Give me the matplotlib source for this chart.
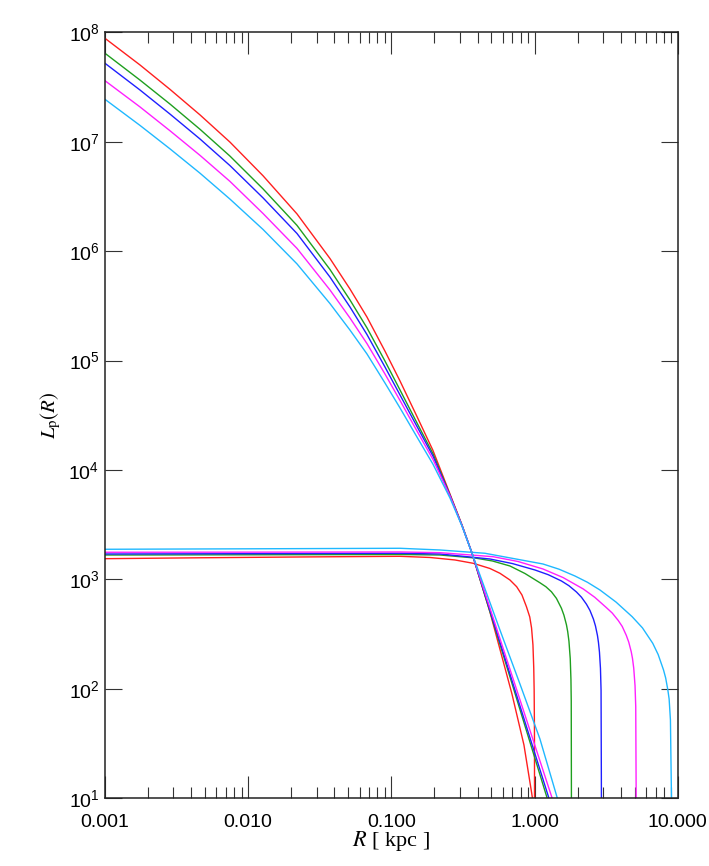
"""
Projected luminosity profiles L_p(R) for two families of models
(cuspy and cored), five truncation radii each.
"""

import matplotlib
matplotlib.use("Agg")
import matplotlib.pyplot as plt
from matplotlib.ticker import NullLocator, LogLocator

# ── data ─────────────────────────────────────────────────────────────────────
colors = ["#ff1f1f", "#1f9f1f", "#1f1fff", "#ff1fff", "#1fb8ff"]  # red, green, blue, magenta, cyan

# cuspy family: common radii up to the crossing point
r_inner = [0.001, 0.001755, 0.002843, 0.004605, 0.007461, 0.01269, 0.02192, 0.03725,
           0.05139, 0.06754, 0.09022, 0.1149, 0.1510, 0.1952, 0.2566, 0.3112, 0.3654]
lp_red = [8.81e7, 5.03e7, 3.01e7, 1.76e7, 9.92e6, 4.89e6, 2.19e6, 8.57e5,
          4.51e5, 2.50e5, 1.22e5, 6.51e4, 3.08e4, 1.51e4, 6.04e3, 3.15e3, 1744]
lp_green = [6.43e7, 3.66e7, 2.21e7, 1.30e7, 7.39e6, 3.71e6, 1.72e6, 6.80e5,
            3.58e5, 1.99e5, 9.91e4, 5.39e4, 2.69e4, 1.41e4, 5.91e3, 3.13e3, 1744]
lp_blue = [5.21e7, 2.97e7, 1.79e7, 1.06e7, 6.05e6, 3.07e6, 1.45e6, 5.80e5,
           3.09e5, 1.73e5, 8.74e4, 4.85e4, 2.50e4, 1.34e4, 5.85e3, 3.11e3, 1744]
lp_magenta = [3.61e7, 2.08e7, 1.26e7, 7.51e6, 4.34e6, 2.21e6, 1.06e6, 4.42e5,
              2.45e5, 1.43e5, 7.54e4, 4.32e4, 2.27e4, 1.25e4, 5.79e3, 3.11e3, 1744]
lp_cyan = [2.44e7, 1.41e7, 8.61e6, 5.16e6, 2.99e6, 1.58e6, 7.65e5, 3.32e5,
           1.90e5, 1.15e5, 6.24e4, 3.69e4, 2.00e4, 1.13e4, 5.55e3, 3.08e3, 1744]
lp_inner = [lp_red, lp_green, lp_blue, lp_magenta, lp_cyan]

# cuspy family: tails beyond the crossing
r_tail = [
    [0.4881, 0.6953, 0.8433, 0.9544, 0.9824],
    [1.2604],
    [1.2973],
    [1.3681],
    [0.5732, 0.7907, 1.0907, 1.4336, 1.4832],
]
lp_tail = [
    [504, 89.8, 30.7, 11.2, 8.7],
    [8.87],
    [8.87],
    [8.87],
    [345, 110.8, 34.8, 10.3, 8.87],
]

# cored family
r_core = [
    [0.001, 0.004605, 0.0230, 0.1149, 0.1860, 0.2780, 0.3731, 0.4881, 0.5732, 0.6733,
     0.7499, 0.8166, 0.8779, 0.9258, 0.9530, 0.9746, 0.9872, 0.9936, 0.9984, 1.0],
    [0.001, 0.01029, 0.1149, 0.2185, 0.3835, 0.5082, 0.6733, 0.8570, 1.0907, 1.201,
     1.3122, 1.4220, 1.5408, 1.6042, 1.6702, 1.7040, 1.7385, 1.7753, 1.7954, 1.8041,
     1.8099],
    [0.001, 0.01029, 0.1149, 0.2185, 0.4881, 0.7010, 1.0065, 1.2454, 1.5408, 1.7385,
     1.9616, 2.1262, 2.3035, 2.4372, 2.5778, 2.6623, 2.7505, 2.7939, 2.8399, 2.8860,
     2.9141, 2.9329],
    [0.001, 0.01029, 0.1149, 0.2185, 0.5124, 0.7659, 1.1446, 1.5826, 2.1883, 2.6325,
     3.1673, 3.4879, 3.8416, 4.0973, 4.3692, 4.5478, 4.7349, 4.8306, 4.9283, 5.0326,
     5.0896, 5.1308],
    [0.001, 0.01029, 0.1149, 0.2185, 0.4503, 1.1446, 1.4806, 1.9147, 2.3410, 2.8615,
     3.7078, 4.8042, 5.6689, 6.6894, 7.2979, 7.9578, 8.2375, 8.5292, 8.7076, 8.8920,
     9.0653],
]
lp_core = [
    [1547, 1577, 1604, 1627, 1587, 1506, 1404, 1259, 1138, 988,
     858, 721, 563, 454, 360, 252, 155, 97.7, 42.1, 7.8],
    [1672, 1680, 1690, 1672, 1570, 1474, 1327, 1133, 932, 857,
     771, 671, 545, 471, 385, 333.8, 273, 189, 122, 77.5,
     7.8],
    [1708, 1719, 1734, 1708, 1537, 1396, 1220, 1105, 968, 876,
     768, 688, 594, 521, 434, 376.5, 307, 266.5, 217, 154,
     97.1, 7.8],
    [1771, 1775, 1782, 1756, 1614, 1459, 1246, 1040, 818, 687,
     554, 493, 421.5, 371.5, 309, 267.6, 218, 189.5, 154.5, 106.9,
     69.0, 7.8],
    [1886, 1905, 1926, 1858, 1734, 1384, 1241, 1075, 942, 801,
     621, 456.5, 361, 261, 206, 148.8, 125.7, 97.7, 80.8, 51.9,
     7.8],
]

xticks = [0.001, 0.01, 0.1, 1.0, 10.0]
xtick_labels = ["0.001", "0.010", "0.100", "1.000", "10.000"]
yticks = [1e1, 1e2, 1e3, 1e4, 1e5, 1e6, 1e7, 1e8]
ytick_labels = [r"$10^{1}$", r"$10^{2}$", r"$10^{3}$", r"$10^{4}$",
                r"$10^{5}$", r"$10^{6}$", r"$10^{7}$", r"$10^{8}$"]

# ── style ────────────────────────────────────────────────────────────────────
plt.rcParams["font.family"] = ["Liberation Sans", "DejaVu Sans"]
plt.rcParams["mathtext.fontset"] = "custom"
plt.rcParams["mathtext.rm"] = "Liberation Sans"
plt.rcParams["mathtext.it"] = "Liberation Sans:italic"

fig = plt.figure(figsize=(7.09, 8.66), dpi=100)
ax = fig.add_axes([0.1481, 0.0782, 0.8078, 0.8845])

for i, c in enumerate(colors):
    ax.plot(r_core[i], lp_core[i], color=c, lw=1.0)
for i, c in enumerate(colors):
    ax.plot(r_inner + r_tail[i], lp_inner[i] + lp_tail[i], color=c, lw=1.0)

ax.set_xscale("log")
ax.set_yscale("log")
ax.set_xlim(0.001, 10.0)
ax.set_ylim(10, 1e8)

ax.set_xticks(xticks, xtick_labels)
ax.xaxis.set_minor_locator(LogLocator(base=10, subs=range(2, 10)))
ax.set_yticks(yticks, ytick_labels)
ax.yaxis.set_minor_locator(NullLocator())

ax.tick_params(which="both", direction="in", top=True, right=True,
               color="#333333", width=0.8, labelsize=14)
ax.tick_params(axis="x", which="major", length=15.5, pad=11)
ax.tick_params(axis="x", which="minor", length=7.8)
ax.tick_params(axis="y", which="major", length=12, pad=4)
for s in ax.spines.values():
    s.set_linewidth(1.1)
    s.set_color("#222222")

ax.set_xlabel(r"$R$ [ kpc ]", fontsize=16, family="Liberation Serif",
              math_fontfamily="stix")
ax.xaxis.set_label_coords(0.5, -0.040)
ax.set_ylabel(r"$L_{\rm p}(R)$", fontsize=15, family="Liberation Serif",
              math_fontfamily="stix")
ax.yaxis.set_label_coords(-0.074, 0.5)

fig.savefig("out.png", dpi=100)
